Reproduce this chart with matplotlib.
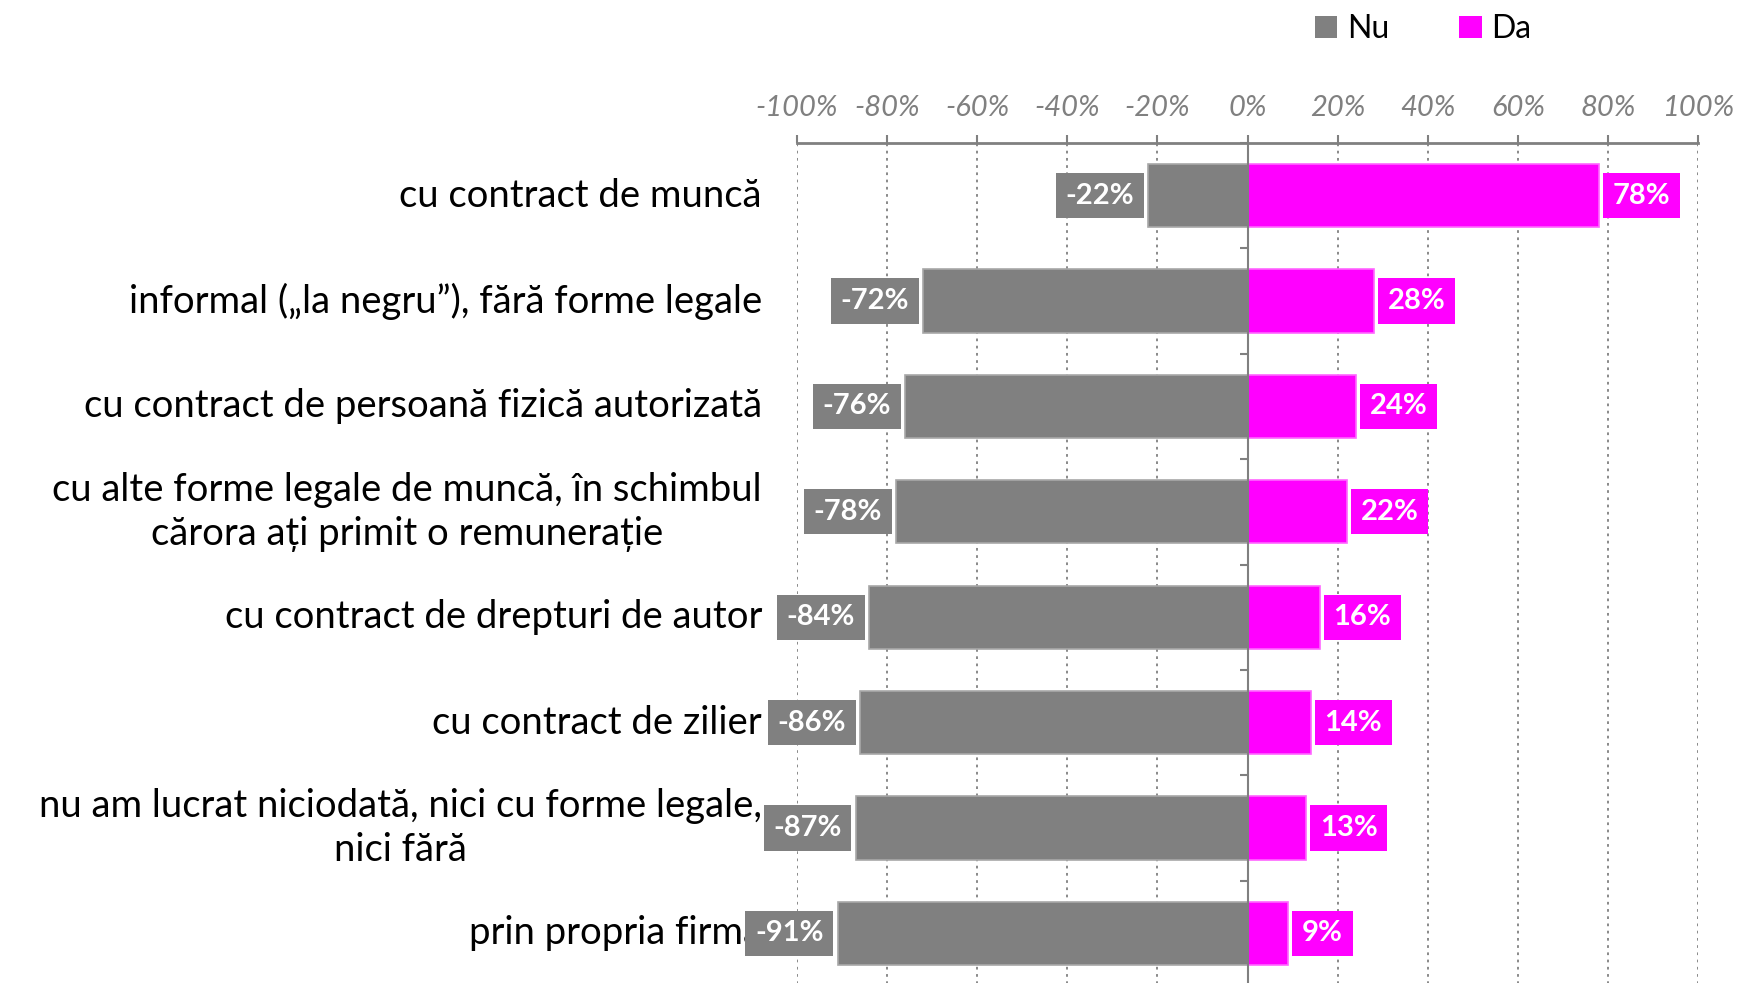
import numpy as np
import matplotlib
matplotlib.use("Agg")
import matplotlib.pyplot as plt
from matplotlib.patches import Patch
from matplotlib.transforms import blended_transform_factory

plt.rcParams['font.family'] = ['Lato', 'DejaVu Sans']

categories = [
    "cu contract de muncă",
    "informal („la negru”), fără forme legale",
    "cu contract de persoană fizică autorizată",
    "cu alte forme legale de muncă, în schimbul\ncărora ați primit o remunerație",
    "cu contract de drepturi de autor",
    "cu contract de zilier",
    "nu am lucrat niciodată, nici cu forme legale,\nnici fără",
    "prin propria firmă",
]
nu_values = [-22, -72, -76, -78, -84, -86, -87, -91]
da_values = [78, 28, 24, 22, 16, 14, 13, 9]
xtick_values = [-100, -80, -60, -40, -20, 0, 20, 40, 60, 80, 100]
series_names = ["Nu", "Da"]

GRAY = "#808080"
MAGENTA = "#FF00FF"

W, H = 1740, 983
fig = plt.figure(figsize=(W / 100, H / 100), dpi=100)
ax_left, ax_right, ax_top, ax_bot = 797, 1698, 143, 986
ax = fig.add_axes([ax_left / W, (H - ax_bot) / H, (ax_right - ax_left) / W, (ax_bot - ax_top) / H])

y = np.arange(len(categories))
nu = np.array(nu_values) / 100
da = np.array(da_values) / 100

ax.barh(y, nu, height=0.6, color=GRAY, edgecolor="#A8A8A8", linewidth=1.2, zorder=3)
ax.barh(y, da, height=0.6, color=MAGENTA, edgecolor="#FF66FF", linewidth=1.2, zorder=3)

ax.set_xlim(-1, 1)
ax.set_ylim(len(categories) - 0.5, -0.5)

# x axis on top
ax.xaxis.tick_top()
ax.set_xticks(np.array(xtick_values) / 100)
ax.set_xticklabels([f"{v}%" for v in xtick_values], fontsize=21, style='italic', color=GRAY)
ax.tick_params(axis='x', which='major', direction='out', length=6, width=1.5, color=GRAY, pad=10)
ax.grid(axis='x', linestyle=(0, (1.5, 2.5)), color=GRAY, linewidth=1.3, zorder=0)

for s in ['right', 'bottom']:
    ax.spines[s].set_visible(False)
ax.spines['top'].set_color(GRAY)
ax.spines['top'].set_linewidth(2)
ax.spines['left'].set_position(('data', 0))
ax.spines['left'].set_color(GRAY)
ax.spines['left'].set_linewidth(1.5)
ax.spines['left'].set_zorder(4)

ax.set_yticks(np.arange(-0.5, len(categories), 1))
ax.set_yticks(y, minor=True)
ax.tick_params(axis='y', which='major', direction='out', length=6, width=1.5, color=GRAY, labelleft=False)
ax.tick_params(axis='y', which='minor', direction='in', length=6, width=1.5, color=GRAY, labelleft=False)

# category labels
trans = blended_transform_factory(fig.transFigure, ax.transData)
for yi, cat in zip(y, categories):
    ax.text(762 / W, yi, cat, transform=trans, ha='right', va='center',
            multialignment='center', fontsize=27.5, color='black', linespacing=1.28, zorder=2)

# data labels
for yi, v in zip(y, nu):
    ax.annotate(f"{int(round(v * 100))}%", xy=(v, yi), xytext=(-14, 0), textcoords='offset pixels',
                ha='right', va='center', fontsize=21, fontweight='bold', color='white',
                bbox=dict(boxstyle='square,pad=0.33', fc=GRAY, ec='none'), zorder=5)
for yi, v in zip(y, da):
    ax.annotate(f"{int(round(v * 100))}%", xy=(v, yi), xytext=(14, 0), textcoords='offset pixels',
                ha='left', va='center', fontsize=21, fontweight='bold', color='white',
                bbox=dict(boxstyle='square,pad=0.33', fc=MAGENTA, ec='none'), zorder=5)

handles = [Patch(facecolor=GRAY, edgecolor='none'), Patch(facecolor=MAGENTA, edgecolor='none')]
fig.legend(handles, series_names, loc='center', bbox_to_anchor=(1423 / W, 1 - 29 / H),
           ncol=2, frameon=False, fontsize=23, handlelength=0.7, handleheight=0.7,
           handletextpad=0.3, columnspacing=2.2)

fig.savefig("out.png", dpi=100)
